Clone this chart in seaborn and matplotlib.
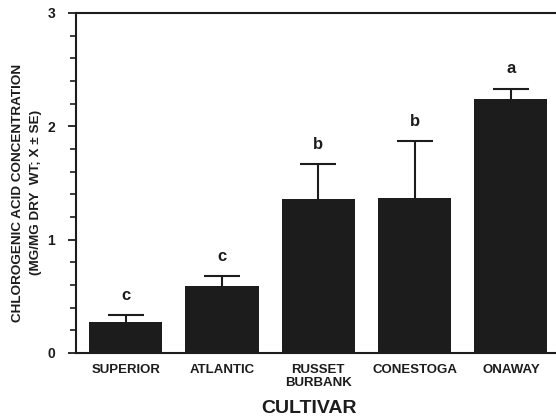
import matplotlib
matplotlib.use("Agg")
import matplotlib.pyplot as plt
import seaborn as sns
import numpy as np
from matplotlib.ticker import MultipleLocator

cultivars = ["SUPERIOR", "ATLANTIC", "RUSSET\nBURBANK", "CONESTOGA", "ONAWAY"]
means = [0.27, 0.594, 1.357, 1.371, 2.242]
se = [0.065, 0.086, 0.308, 0.50, 0.091]
letters = ["c", "c", "b", "b", "a"]

sns.set_theme(style="white")
plt.rcParams['font.family'] = ['Liberation Sans', 'DejaVu Sans']
plt.rcParams['font.weight'] = 'bold'

INK = "#1c1c1c"
fig = plt.figure(figsize=(5.56, 4.16), dpi=100)
ax = fig.add_axes([76/556, 63/416, 1 - 76/556 + 0.002, (353-13)/416])

sns.barplot(x=cultivars, y=means, color=INK, saturation=1, width=0.76,
            errorbar=None, ax=ax, edgecolor=INK, linewidth=0)
ax.errorbar(np.arange(len(means)), means, yerr=se,
            fmt="none", ecolor=INK, elinewidth=1.5, capsize=13, capthick=1.5)

for i, (m, s, l) in enumerate(zip(means, se, letters)):
    ax.annotate(l, xy=(i, m + s), xytext=(0, 11), textcoords="offset points",
                ha="center", va="baseline", fontsize=12, fontweight="bold", color=INK)

ax.set_ylim(0, 3)
ax.set_xlim(-0.516, 4.48)
ax.yaxis.set_major_locator(MultipleLocator(1))
ax.yaxis.set_minor_locator(MultipleLocator(0.2))
ax.tick_params(axis="y", which="major", direction="out", length=6, width=1.3,
               left=True, labelsize=10, pad=9, colors=INK)
ax.tick_params(axis="y", which="minor", direction="out", length=4, width=1.2, left=True,
               colors=INK)
ax.tick_params(axis="x", which="both", bottom=False, labelsize=9.5, pad=2, colors=INK)
for lab in ax.get_xticklabels() + ax.get_yticklabels():
    lab.set_fontweight("bold")
for lab in ax.get_xticklabels():
    lab.set_linespacing(1.15)

for side in ["left", "bottom", "top"]:
    ax.spines[side].set_visible(True)
    ax.spines[side].set_color(INK)
    ax.spines[side].set_linewidth(1.5)
ax.spines["right"].set_visible(False)

ax.set_xlabel("CULTIVAR", fontsize=14, fontweight="bold", color=INK)
ax.xaxis.set_label_coords((308-76)/480, -0.137)
ax.set_ylabel("CHLOROGENIC ACID CONCENTRATION\n(MG/MG DRY  WT; X ± SE)",
              fontsize=9.7, fontweight="bold", color=INK, linespacing=1.7)
ax.yaxis.set_label_coords(-0.07, 0.472)

fig.savefig("out.png", dpi=100)
